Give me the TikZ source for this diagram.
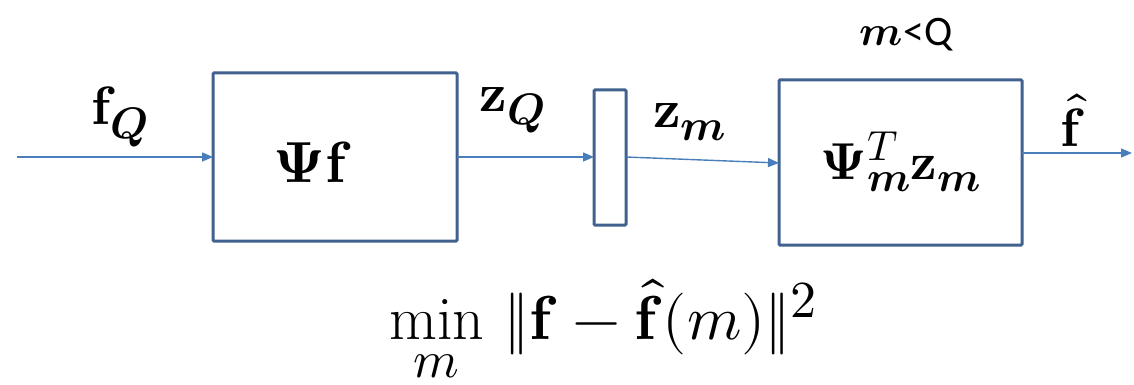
\documentclass[tikz,border=0pt]{standalone}
\usepackage{amsmath}
\usepackage{fontspec}
\usepackage{unicode-math}
\setmathfont{Latin Modern Math}
\newfontfamily\calib{Carlito}
\DeclareMathSizes{54}{54}{44}{36}
\DeclareMathSizes{58}{58}{46}{38}
\DeclareMathSizes{52}{52}{42}{34}
\DeclareMathSizes{62}{62}{52}{42}
\DeclareMathSizes{42}{42}{34}{28}
\usetikzlibrary{arrows.meta}
\definecolor{boxblue}{HTML}{41618F}
\definecolor{arrblue}{HTML}{4A7EBB}
\tikzset{
  blockbox/.style={draw=boxblue, line width=3pt, rounded corners=1pt},
  flow/.style={draw=arrblue, line width=1.4pt, -{Triangle[length=11pt,width=9pt]}},
  lbl/.style={inner sep=0pt, font=\fontsize{54}{60}\selectfont}
}
\begin{document}
\begin{tikzpicture}[x=1pt,y=-1pt]
\useasboundingbox (0,0) rectangle (1134,385);
% blocks
\draw[blockbox] (213,73) rectangle (457,241);
\draw[blockbox] (594,90) rectangle (626,225);
\draw[blockbox] (779,80) rectangle (1022,245);
\coordinate (b1w) at (213,157);
\coordinate (b1e) at (457,157);
\coordinate (sw) at (594,157);
\coordinate (se) at (626,157);
\coordinate (b2w) at (779,163);
\coordinate (b2e) at (1022,153);
\coordinate (in) at (17,157);
\coordinate (out) at (1132,153);
% arrows
\draw[flow] (in) -- (b1w);
\draw[flow] (b1e) -- (sw);
\draw[flow] (se) -- (b2w);
\draw[flow] (b2e) -- (out);
% texts
\node[inner sep=0pt, font=\fontsize{58}{64}\selectfont] (t1) at (313,162) {$\symbf{\Psi}\symbf{f}$};
\node[inner sep=0pt, font=\fontsize{52}{58}\selectfont] (t2) at (901,162) {$\symbf{\Psi}_{\symbfit{m}}^{\symit{T}}\symbf{z}_{\symbfit{m}}$};
\node[lbl] (l1) at (120,117) {$\symbf{f}_{\symbfit{Q}}$};
\node[lbl] (l2) at (513,110) {$\symbf{z}_{\symbfit{Q}}$};
\node[lbl] (l3) at (690,122) {$\symbf{z}_{\symbfit{m}}$};
\node[lbl] (l4) at (1073,120) {$\hat{\symbf{f}}$};
\node[inner sep=0pt, font=\fontsize{42}{48}\selectfont] (l5) at (906,35) {$\symbfit{m}$\calib<Q};
\node[inner sep=0pt, font=\fontsize{62}{68}\selectfont] (obj) at (603,332) {$\displaystyle\min_{m}\,\|\symbf{f}-\hat{\symbf{f}}(m)\|^{2}$};
\end{tikzpicture}
\end{document}
